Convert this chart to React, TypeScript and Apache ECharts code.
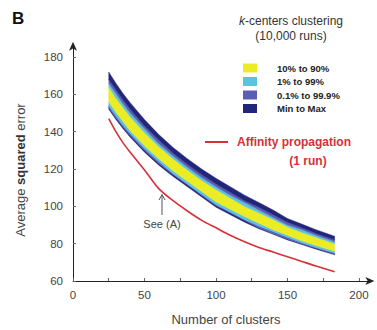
import React, { useEffect, useRef } from "react";
import * as echarts from "echarts";

// Number of clusters at which the error curves are sampled
const clusters = [25, 30, 35, 40, 50, 60, 70, 80, 90, 100, 110, 120, 130, 140, 150, 160, 170, 183];

// k-centers clustering, 10,000 runs: percentiles of the average squared error
const kcMin = [152, 146.5, 141.5, 137, 129, 122, 116, 110.5, 105, 99.5, 95.5, 91.5, 88, 85, 82, 79.5, 77, 74];
const kcP0_1 = [153, 147.5, 142.5, 138, 130, 123, 117, 111.5, 106, 100.5, 96.5, 92.5, 88.5, 85.5, 82.5, 80, 77.5, 74.5];
const kcP1 = [154, 148.5, 143.5, 139, 131, 124, 117.5, 112, 106.5, 101, 97, 93, 89.5, 86.5, 83.5, 80.5, 78, 75];
const kcP10 = [156, 150.5, 145.5, 140.5, 132.5, 125.5, 119, 113.5, 108, 102.5, 98.5, 94.5, 91, 87.5, 84.5, 81.5, 79, 76];
const kcP90 = [164, 158, 153, 148, 139.5, 132, 125.5, 119.5, 114, 109, 104.5, 100, 96.5, 93, 89, 86, 83.5, 80];
const kcP99 = [166, 160.5, 155, 150, 141.5, 133.5, 127, 121, 115.5, 110.5, 106, 102, 98, 94, 90, 87.5, 84.5, 81];
const kcP99_9 = [168, 162.5, 157, 152, 143, 135.5, 128.5, 122.5, 117, 112, 107.5, 103, 99.5, 95.5, 91.5, 88.5, 85.5, 82];
const kcMax = [172, 166, 160.5, 155.5, 146.5, 138.5, 131.5, 125.5, 120, 115, 110.5, 106, 102, 98, 93.5, 90.5, 87.5, 84];

// Affinity propagation, single run
const affinity = [147, 140, 134, 129, 119.5, 109.5, 103, 97.5, 92.5, 88.5, 84.5, 81, 78, 75.5, 73, 70.5, 68, 65];

// Tick labels
const xTickLabels = [0, 50, 100, 150, 200];
const xMinorTicks = [0, 25, 50, 75, 100, 125, 150, 175, 200];
const yTickLabels = [60, 80, 100, 120, 140, 160, 180];

// Legend entries for the percentile bands
const bandLegend = ["10% to 90%", "1% to 99%", "0.1% to 99.9%", "Min to Max"];

const NAVY = "#22267a";
const PURPLE = "#5a5fb4";
const CYAN = "#5cc3df";
const YELLOW = "#ecec24";
const RED = "#d8303a";
const bandColors = [YELLOW, CYAN, PURPLE, NAVY];

const FONT = "Liberation Sans, Arial, sans-serif";

// Consecutive percentile curves, bottom to top, and the colour between each pair
const curves = [kcMin, kcP0_1, kcP1, kcP10, kcP90, kcP99, kcP99_9, kcMax];
const fills = [NAVY, PURPLE, CYAN, YELLOW, CYAN, PURPLE, NAVY];

export default function App() {
  const ref = useRef<HTMLDivElement>(null);

  useEffect(() => {
    document.body.style.margin = "0";
    if (!ref.current) return;
    const chart = echarts.init(ref.current, undefined, { renderer: "svg" });

    // One polygon per band: the upper curve left to right, then the lower curve back.
    const bandSeries = {
      type: "custom",
      coordinateSystem: "cartesian2d",
      silent: true,
      z: 2,
      data: fills.map((_, b) => [clusters[0], curves[b][0]]),
      renderItem: (params: any, api: any) => {
        const b = params.dataIndex;
        const lower = curves[b];
        const upper = curves[b + 1];
        const top = clusters.map((x, i) => api.coord([x, upper[i]]));
        const bottom = clusters.map((x, i) => api.coord([x, lower[i]])).reverse();
        return {
          type: "polygon",
          shape: { points: top.concat(bottom) },
          style: { fill: fills[b], stroke: fills[b], lineWidth: 0.4 },
        };
      },
    };

    const legendRowsY = [68, 81.5, 95, 108.5];

    const legendItems: any[] = [];
    bandLegend.forEach((label, i) => {
      legendItems.push({
        type: "rect",
        z: 30,
        shape: { x: 243, y: legendRowsY[i] - 4.5, width: 14, height: 9 },
        style: { fill: bandColors[i] },
      });
      legendItems.push({
        type: "text",
        z: 30,
        x: 277,
        y: legendRowsY[i],
        style: {
          text: label,
          font: `bold 9.5px ${FONT}`,
          fill: "#222",
          textAlign: "left",
          textVerticalAlign: "middle",
        },
      });
    });

    chart.setOption({
      animation: false,
      grid: { left: 73, right: 6.6, top: 45.8, bottom: 49, containLabel: false },
      xAxis: {
        type: "value",
        min: 0,
        max: 208,
        z: 20,
        splitLine: { show: false },
        axisLine: {
          lineStyle: { color: "#222", width: 1 },
          symbol: ["none", "arrow"],
          symbolSize: [6, 9],
          symbolOffset: [0, 4],
        },
        axisTick: { inside: true, length: 3, customValues: xMinorTicks, lineStyle: { color: "#666" } },
        axisLabel: {
          customValues: xTickLabels,
          color: "#444",
          fontFamily: FONT,
          fontSize: 11.5,
          margin: 8,
        },
      },
      yAxis: {
        type: "value",
        min: 60,
        max: 186,
        z: 20,
        splitLine: { show: false },
        axisLine: {
          show: true,
          lineStyle: { color: "#222", width: 1 },
          symbol: ["none", "arrow"],
          symbolSize: [6, 9],
          symbolOffset: [0, 4],
        },
        axisTick: { show: true, inside: true, length: 3, customValues: yTickLabels, lineStyle: { color: "#666" } },
        axisLabel: {
          customValues: yTickLabels,
          color: "#444",
          fontFamily: FONT,
          fontSize: 11.5,
          margin: 10,
        },
      },
      series: [
        bandSeries,
        {
          type: "line",
          data: clusters.map((x, i) => [x, affinity[i]]),
          smooth: 0.3,
          showSymbol: false,
          z: 15,
          lineStyle: { color: RED, width: 1.6 },
          silent: true,
        },
      ],
      graphic: [
        {
          type: "text",
          z: 30,
          x: 12,
          y: 18,
          style: { text: "B", font: `bold 17px ${FONT}`, fill: "#111", textVerticalAlign: "middle" },
        },
        {
          type: "text",
          z: 30,
          x: 291,
          y: 21,
          style: {
            text: "{i|k}{n|-centers clustering}",
            textAlign: "center",
            textVerticalAlign: "middle",
            rich: {
              i: { font: `italic 12px ${FONT}`, fill: "#333" },
              n: { font: `12px ${FONT}`, fill: "#333" },
            },
          },
        },
        {
          type: "text",
          z: 30,
          x: 291,
          y: 36,
          style: {
            text: "(10,000 runs)",
            font: `12px ${FONT}`,
            fill: "#333",
            textAlign: "center",
            textVerticalAlign: "middle",
          },
        },
        ...legendItems,
        {
          type: "line",
          z: 30,
          shape: { x1: 205, y1: 142, x2: 228, y2: 142 },
          style: { stroke: RED, lineWidth: 2 },
        },
        {
          type: "text",
          z: 30,
          x: 237,
          y: 142,
          style: {
            text: "Affinity propagation",
            font: `bold 12px ${FONT}`,
            fill: RED,
            textAlign: "left",
            textVerticalAlign: "middle",
          },
        },
        {
          type: "text",
          z: 30,
          x: 308,
          y: 161,
          style: {
            text: "(1 run)",
            font: `bold 12px ${FONT}`,
            fill: RED,
            textAlign: "center",
            textVerticalAlign: "middle",
          },
        },
        {
          type: "text",
          z: 30,
          x: 162,
          y: 224,
          style: {
            text: "See (A)",
            font: `11px ${FONT}`,
            fill: "#444",
            textAlign: "center",
            textVerticalAlign: "middle",
          },
        },
        {
          type: "line",
          shape: { x1: 162, y1: 215, x2: 162, y2: 195 },
          style: { stroke: "#555", lineWidth: 1 },
          z: 30,
        },
        {
          type: "polyline",
          shape: { points: [[159, 200], [162, 194.5], [165, 200]] },
          style: { stroke: "#555", lineWidth: 1, fill: "none" },
          z: 30,
        },
        {
          type: "text",
          z: 30,
          x: 20,
          y: 170,
          rotation: Math.PI / 2,
          style: {
            text: "{n|Average }{b|squared}{n| error}",
            textAlign: "center",
            textVerticalAlign: "middle",
            rich: {
              n: { font: `13px ${FONT}`, fill: "#444" },
              b: { font: `bold 13px ${FONT}`, fill: "#333" },
            },
          },
        },
        {
          type: "text",
          z: 30,
          x: 226,
          y: 319,
          style: {
            text: "Number of clusters",
            font: `13px ${FONT}`,
            fill: "#444",
            textAlign: "center",
            textVerticalAlign: "middle",
          },
        },
      ],
    });

    return () => chart.dispose();
  }, []);

  return <div ref={ref} style={{ width: 377, height: 330 }} />;
}
